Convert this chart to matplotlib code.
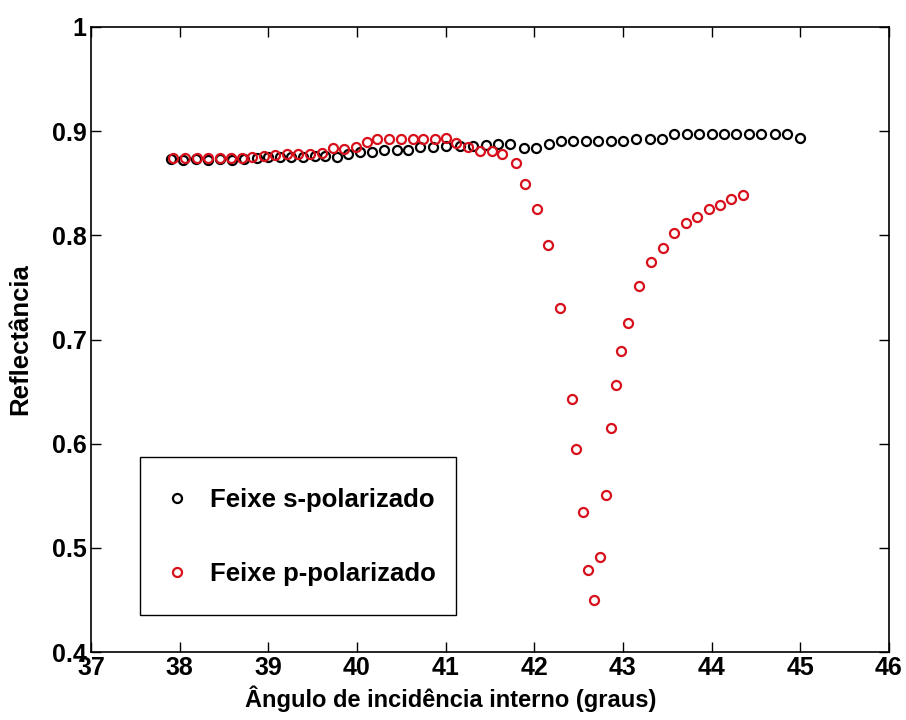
import matplotlib
matplotlib.use("Agg")
import matplotlib.pyplot as plt
from matplotlib.patches import Rectangle

plt.rcParams['font.family'] = ['Liberation Sans', 'DejaVu Sans']
plt.rcParams['font.weight'] = 'bold'

# s-polarized beam
s_angle = [37.90, 38.04, 38.18, 38.32, 38.46, 38.59, 38.73, 38.87, 39.00, 39.13,
           39.26, 39.39, 39.53, 39.64, 39.77, 39.90, 40.03, 40.17, 40.30, 40.45,
           40.58, 40.71, 40.86, 41.00, 41.16, 41.31, 41.45, 41.59, 41.73, 41.88,
           42.02, 42.16, 42.30, 42.44, 42.58, 42.72, 42.86, 43.00, 43.15, 43.30,
           43.44, 43.58, 43.72, 43.86, 44.00, 44.14, 44.28, 44.42, 44.56, 44.71,
           44.85, 45.00]
s_refl = [0.873, 0.872, 0.873, 0.872, 0.873, 0.872, 0.873, 0.874, 0.875, 0.8755,
          0.8755, 0.8755, 0.8765, 0.8765, 0.875, 0.878, 0.880, 0.880, 0.8815, 0.882,
          0.882, 0.885, 0.885, 0.886, 0.886, 0.886, 0.887, 0.888, 0.888, 0.884,
          0.884, 0.888, 0.891, 0.891, 0.891, 0.891, 0.891, 0.891, 0.8925, 0.8925,
          0.8925, 0.897, 0.897, 0.897, 0.897, 0.897, 0.897, 0.897, 0.897, 0.897,
          0.897, 0.893]

# p-polarized beam
p_angle = [37.93, 38.06, 38.19, 38.32, 38.45, 38.58, 38.70, 38.82, 38.95, 39.08,
           39.21, 39.34, 39.47, 39.60, 39.73, 39.85, 39.99, 40.11, 40.23, 40.36,
           40.50, 40.63, 40.75, 40.88, 41.00, 41.12, 41.25, 41.39, 41.52, 41.64,
           41.79, 41.90, 42.03, 42.15, 42.29, 42.42, 42.47, 42.55, 42.61, 42.67,
           42.74, 42.81, 42.87, 42.92, 42.98, 43.06, 43.18, 43.32, 43.45, 43.58,
           43.71, 43.84, 43.97, 44.09, 44.22, 44.35]
p_refl = [0.874, 0.874, 0.874, 0.874, 0.874, 0.874, 0.874, 0.875, 0.876, 0.877,
          0.878, 0.878, 0.878, 0.879, 0.8835, 0.8826, 0.885, 0.890, 0.8925, 0.8925,
          0.8925, 0.8925, 0.8925, 0.8925, 0.893, 0.889, 0.885, 0.881, 0.881, 0.878,
          0.869, 0.849, 0.825, 0.791, 0.730, 0.643, 0.595, 0.534, 0.479, 0.450,
          0.491, 0.551, 0.615, 0.656, 0.689, 0.716, 0.751, 0.774, 0.788, 0.802,
          0.812, 0.818, 0.825, 0.829, 0.835, 0.839]

x_ticks = [37, 38, 39, 40, 41, 42, 43, 44, 45, 46]
y_ticks = [0.4, 0.5, 0.6, 0.7, 0.8, 0.9, 1.0]
y_tick_labels = ['0.4', '0.5', '0.6', '0.7', '0.8', '0.9', '1']
series_labels = ['Feixe s-polarizado', 'Feixe p-polarizado']

fig = plt.figure(figsize=(9.06, 7.2), dpi=100)
ax = fig.add_axes([91/906, 68/720, 798/906, 625/720])

ax.plot(s_angle, s_refl, linestyle='none', marker='o', markersize=6.5,
        markerfacecolor='none', markeredgecolor='black', markeredgewidth=1.6,
        label=series_labels[0])
ax.plot(p_angle, p_refl, linestyle='none', marker='o', markersize=6.5,
        markerfacecolor='none', markeredgecolor='#d8101c', markeredgewidth=1.6,
        label=series_labels[1])

ax.set_xlim(37, 46)
ax.set_ylim(0.4, 1.0)
ax.set_xticks(x_ticks)
ax.set_xticklabels([str(t) for t in x_ticks])
ax.set_yticks(y_ticks)
ax.set_yticklabels(y_tick_labels)
ax.tick_params(direction='in', length=7, width=1, top=True, right=True,
               labelsize=18, pad=3)
for sp in ax.spines.values():
    sp.set_linewidth(1.2)

ax.set_xlabel('Ângulo de incidência interno (graus)', fontsize=17,
              fontweight='bold')
ax.xaxis.set_label_coords(0.451, -0.053)
ax.set_ylabel('Reflectância', fontsize=18.5, fontweight='bold')
ax.yaxis.set_label_coords(-0.074, 0.5)

# legend box drawn as a plain rectangle (MATLAB-style tight right margin)
ax.add_patch(Rectangle((0.0614, 0.0592), 0.396, 0.2528, transform=ax.transAxes,
                       facecolor='white', edgecolor='black', linewidth=1.0,
                       zorder=4))
leg = ax.legend(loc='center left', bbox_to_anchor=(0.0936, 0.184),
                borderaxespad=0, fontsize=18.5, numpoints=1, handlelength=0.86,
                handletextpad=0.87, labelspacing=1.95, borderpad=0,
                frameon=False)
leg.set_zorder(5)
for t in leg.get_texts():
    t.set_fontweight('bold')

fig.savefig('out.png', dpi=100)
